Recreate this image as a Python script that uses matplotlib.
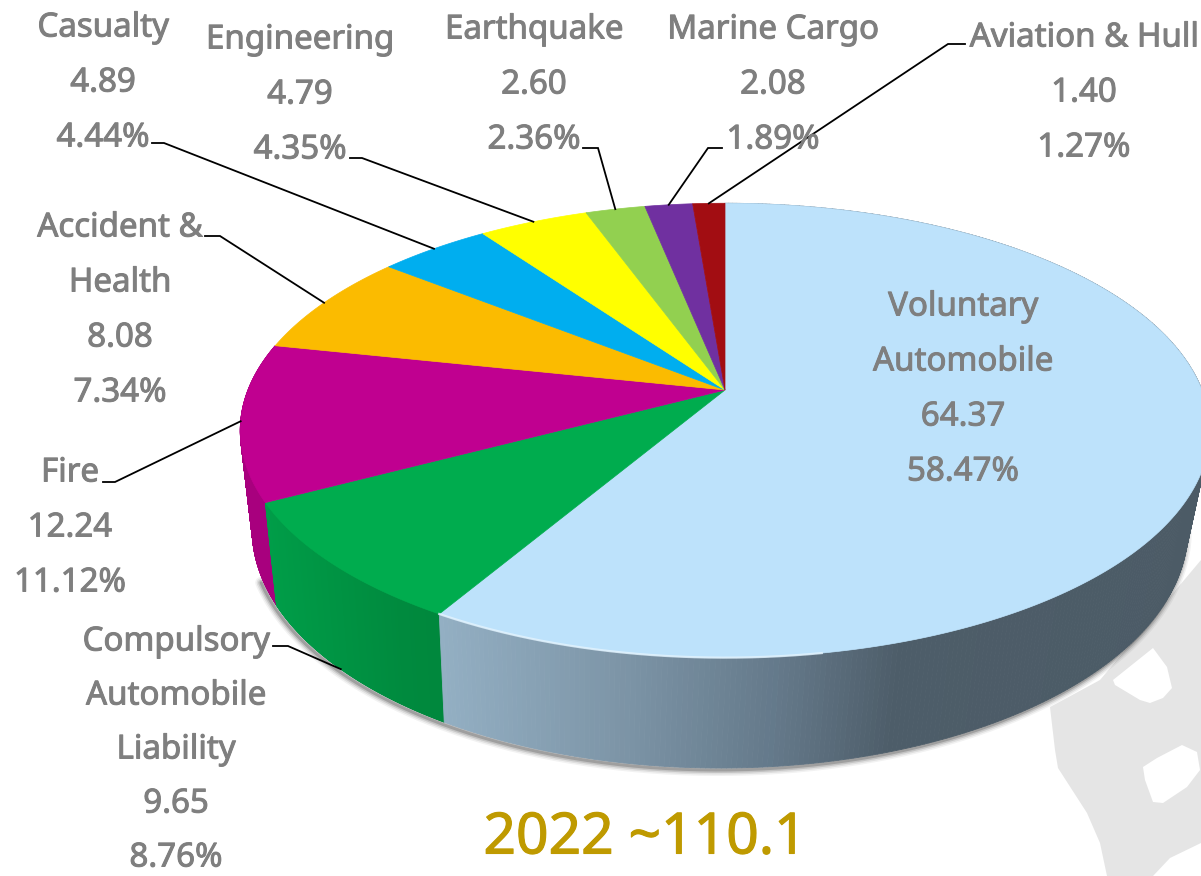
import numpy as np
import matplotlib
matplotlib.use("Agg")
import matplotlib.pyplot as plt
import matplotlib.patheffects as pe
from matplotlib.collections import PolyCollection
from matplotlib.colors import to_rgb
from matplotlib.patches import PathPatch, Polygon
from matplotlib.path import Path

categories = [
    ["Voluntary", "Automobile"],
    ["Compulsory", "Automobile", "Liability"],
    ["Fire"],
    ["Accident &", "Health"],
    ["Casualty"],
    ["Engineering"],
    ["Earthquake"],
    ["Marine Cargo"],
    ["Aviation & Hull"],
]
values = [64.37, 9.65, 12.24, 8.08, 4.89, 4.79, 2.60, 2.08, 1.40]
shares = [58.47, 8.76, 11.12, 7.34, 4.44, 4.35, 2.36, 1.89, 1.27]
total_label = "2022 ~110.1"

top_colors = ["#bde2fb", "#00ac4e", "#c00090", "#fbbb00", "#00aeef",
              "#ffff00", "#92d050", "#7030a0", "#a20d12"]
# (x, colour) stops for the shading of the outer wall of each slice
wall_stops = {
    0: [(440, "#93afc3"), (620, "#7d95a7"), (780, "#64798a"), (900, "#4d5d69"), (1210, "#4c5b66")],
    1: [(265, "#009d48"), (400, "#008a3e"), (450, "#00873c")],
    2: [(235, "#a8007e"), (280, "#a8007e")],
}

# label centre x, y of first line, line spacing
label_pos = [(963, 307, 55), (176, 642, 54), (70, 473, 55), (120, 228, 55), (103, 28, 55),
             (300, 40, 55), (534, 30, 55), (773, 30, 55), (1084, 38, 55)]
# elbow start and elbow corner of each leader line, slice index as key
leader_elbows = {
    1: [(273, 646), (288, 646)],
    2: [(103, 482), (115, 482)],
    3: [(205, 236), (220, 236)],
    4: [(152, 143), (164, 143)],
    5: [(350, 158), (362, 158)],
    6: [(583, 148), (598, 148)],
    7: [(722, 148), (708, 148)],
    8: [(965, 44), (948, 44)],
}

watermark = [(1050, 707), (1055, 750), (1058, 768), (1087, 813), (1100, 843), (1107, 876),
             (1153, 876), (1170, 858), (1201, 843), (1201, 560), (1100, 680)]
watermark_holes = [
    [(1113, 680), (1115, 685), (1140, 700), (1150, 703), (1163, 698), (1172, 688), (1167, 667), (1153, 648)],
    [(1143, 767), (1145, 780), (1153, 802), (1163, 803), (1187, 787), (1200, 770), (1197, 752), (1182, 745), (1157, 758)],
]

CX, CY = 725, 390
A, B, K = 477, 220, 0.178


def project(t):
    # perspective view of the disc, t is the angle clockwise from 12 o'clock
    u, v = np.sin(t), np.cos(t)
    d = 1 + K * v
    return CX + A * u / d, CY - B * v / d


def project_base(t):
    x, y = project(t)
    return CX - 5 + 0.965 * (x - CX), CY + 1.05 * (y - CY) + 97


def wall_color(i, x):
    stops = wall_stops[i]
    xs = [s[0] for s in stops]
    rgb = np.array([to_rgb(s[1]) for s in stops])
    return tuple(np.interp(x, xs, rgb[:, c]) for c in range(3))


fig = plt.figure(figsize=(12.01, 8.76), dpi=100)
ax = fig.add_axes([0, 0, 1, 1])
ax.set_xlim(0, 1201)
ax.set_ylim(876, 0)
ax.axis("off")

# grey background shape, cut-outs wind the other way so they stay empty
verts, codes = [], []
for ring in [watermark] + [h[::-1] for h in watermark_holes]:
    verts += ring + [ring[0]]
    codes += [Path.MOVETO] + [Path.LINETO] * (len(ring) - 1) + [Path.CLOSEPOLY]
ax.add_patch(PathPatch(Path(verts, codes), facecolor="#e5e5e5", edgecolor="none", zorder=1))

edges = np.cumsum([0] + values) / sum(values) * 2 * np.pi

# soft shadow below the wall
ts = np.linspace(np.pi * 0.45, edges[2] + 0.1, 300)
bx, by = project_base(ts)
for w, a in zip([12, 9, 6, 3], [0.05, 0.08, 0.12, 0.18]):
    ax.plot(bx - 2, by + 2, color="black", lw=w * 0.72, alpha=a, zorder=2, solid_capstyle="round")

# outer walls, only the three front slices show
for i in [2, 1, 0]:
    t = np.linspace(edges[i], edges[i + 1], 400)
    x0, y0 = project(t)
    x1, y1 = project_base(t)
    quads, cols = [], []
    for j in range(len(t) - 1):
        quads.append([(x0[j], y0[j]), (x0[j + 1], y0[j + 1]), (x1[j + 1], y1[j + 1]), (x1[j], y1[j])])
        cols.append(wall_color(i, (x0[j] + x0[j + 1]) / 2))
    ax.add_collection(PolyCollection(quads, facecolors=cols, edgecolors=cols, linewidths=0.6, zorder=3 + (2 - i) * 0.1))

# top faces
for i, col in enumerate(top_colors):
    t = np.linspace(edges[i], edges[i + 1], 300)
    x, y = project(t)
    pts = np.column_stack([np.r_[CX, x], np.r_[CY, y]])
    ax.add_patch(Polygon(pts, closed=True, facecolor=col, edgecolor=col, lw=0.5, zorder=5))

# light bevel on the front rim of the largest slice
t = np.linspace(edges[1] - 0.7, edges[1], 200)
x, y = project(t)
ax.plot(x, y, color="#e4f4fe", lw=1.6, alpha=0.8, zorder=6)

# leader lines run from the label elbow to the rim of the slice
for i, elbow in leader_elbows.items():
    mid = (edges[i] + edges[i + 1]) / 2
    # the front slice is labelled from its lower wall edge
    ex, ey = project_base(mid) if i == 1 else project(mid)
    xs = [p[0] for p in elbow] + [ex]
    ys = [p[1] for p in elbow] + [ey]
    ax.plot(xs, ys, color="black", lw=1.3, zorder=7, solid_joinstyle="miter")

# category, value and share labels, one text per line
GREY = "#7f7f7f"
heavier = [pe.withStroke(linewidth=0.7, foreground=GREY)]
for name, val, pct, (lx, ly, step) in zip(categories, values, shares, label_pos):
    lines = name + [f"{val:.2f}", f"{pct:.2f}%"]
    for n, line in enumerate(lines):
        ax.text(lx, ly + n * step, line, ha="center", va="center", color=GREY, fontsize=23.8,
                family="Noto Sans", zorder=8, path_effects=heavier)

ax.text(645, 839, total_label, ha="center", va="center", color="#bf9a00", fontsize=41,
        family="Noto Sans", zorder=8, path_effects=[pe.withStroke(linewidth=0.8, foreground="#bf9a00")])

fig.savefig("out.png", dpi=100)
